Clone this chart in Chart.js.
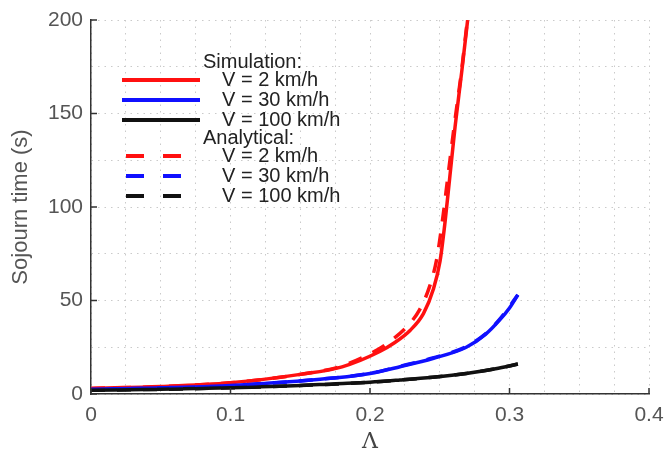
<!DOCTYPE html>
<html>
<head>
  <meta charset="UTF-8">
  <title>Sojourn time</title>
  <script src="https://cdn.jsdelivr.net/npm/chart.js"></script>
  <style>
    body {
      margin: 0;
      background: white;
    }
    canvas {
      display: block;
    }
  </style>
</head>
<body>
  <canvas id="grafica" width="665" height="449"></canvas>

  <script>
    // Simulation curves (Lambda, sojourn time in s)
    const simLambdaV2 = [0, 0.05, 0.1, 0.15, 0.18, 0.207, 0.2167, 0.2287, 0.2383, 0.2454, 0.2502, 0.2538, 0.2572, 0.261, 0.2657, 0.27];
    const simTimeV2   = [3, 4, 6, 10.5, 14.5, 22.7, 27, 34, 43, 56, 71, 92, 116, 143, 172, 200];
    const simLambdaV30 = [0, 0.05, 0.1, 0.126, 0.15, 0.1735, 0.2, 0.2215, 0.245, 0.269, 0.283, 0.293, 0.3, 0.306];
    const simTimeV30   = [2.5, 3.3, 4.5, 5.8, 7, 8.5, 11, 14.6, 19, 25, 32, 39.6, 46, 53];
    const simLambdaV100 = [0, 0.05, 0.1, 0.15, 0.1735, 0.2, 0.2215, 0.245, 0.269, 0.29, 0.306];
    const simTimeV100   = [2, 2.5, 3.3, 4.5, 5.4, 6.3, 7.5, 9, 11, 13.5, 16];

    // Analytical curves
    const anaLambdaV2 = [0, 0.05, 0.1, 0.15, 0.18, 0.205, 0.215, 0.2265, 0.2355, 0.2425, 0.2478, 0.2518, 0.2558, 0.2603, 0.2655, 0.2698];
    const anaTimeV2   = [3, 4, 6, 10.5, 15, 23.5, 28.5, 36, 45, 57, 72, 92, 116, 143, 172, 200];
    const anaLambdaV30 = [0, 0.05, 0.1, 0.15, 0.2, 0.2215, 0.245, 0.269, 0.283, 0.293, 0.306];
    const anaTimeV30   = [2.5, 3.3, 4.5, 7, 11, 14.8, 19.3, 25.3, 32.3, 40, 53];
    const anaLambdaV100 = [0, 0.05, 0.1, 0.15, 0.2, 0.245, 0.269, 0.29, 0.306];
    const anaTimeV100   = [2, 2.5, 3.3, 4.5, 6.3, 9, 11, 13.5, 16];

    const speedLabels = ['V = 2 km/h', 'V = 30 km/h', 'V = 100 km/h'];
    const groupTitles = ['Simulation:', 'Analytical:'];
    const xMajorTicks = [0, 0.1, 0.2, 0.3, 0.4];
    const yMajorTicks = [0, 50, 100, 150, 200];

    const colores = ['#ff1010', '#1010ff', '#111111'];

    function puntos(xs, ys) {
      return xs.map((x, i) => ({ x: x, y: ys[i] }));
    }

    function esMayor(v, lista) {
      return lista.some(t => Math.abs(t - v) < 1e-6);
    }

    const serie = (label, xs, ys, color, dash, orden) => ({
      label: label,
      data: puntos(xs, ys),
      borderColor: color,
      borderWidth: 3.5,
      borderDash: dash,
      pointRadius: 0,
      cubicInterpolationMode: 'monotone',
      fill: false,
      order: orden
    });

    const datasets = [
      serie(speedLabels[0], simLambdaV2, simTimeV2, colores[0], [], 5),
      serie(speedLabels[1], simLambdaV30, simTimeV30, colores[1], [], 4),
      serie(speedLabels[2], simLambdaV100, simTimeV100, colores[2], [], 3),
      serie(speedLabels[0], anaLambdaV2, anaTimeV2, colores[0], [14, 12], 2),
      serie(speedLabels[1], anaLambdaV30, anaTimeV30, colores[1], [14, 12], 1),
      serie(speedLabels[2], anaLambdaV100, anaTimeV100, colores[2], [14, 12], 0)
    ];

    // legend with the two group headers, drawn inside the plot
    const leyenda = {
      id: 'leyenda',
      afterDatasetsDraw(chart) {
        const ctx = chart.ctx;
        ctx.save();
        ctx.font = '20px "Liberation Sans", Arial, sans-serif';
        ctx.fillStyle = '#222';
        ctx.textBaseline = 'middle';
        let y = 62;
        chart.data.datasets.forEach((ds, i) => {
          if (i % 3 === 0) {
            ctx.fillText(groupTitles[i / 3], 203, y);
            y += 18;
          }
          ctx.strokeStyle = ds.borderColor;
          ctx.lineWidth = 4;
          ctx.setLineDash(ds.borderDash.length ? [18, 19] : []);
          ctx.beginPath();
          ctx.moveTo(ds.borderDash.length ? 126 : 122, y);
          ctx.lineTo(200, y);
          ctx.stroke();
          ctx.fillText(ds.label, 222, y);
          y += 20;
          if (i === 2) y -= 2;
        });
        ctx.restore();
      }
    };

    // small inward tick marks on the two axes
    const marcas = {
      id: 'marcas',
      afterDraw(chart) {
        const ctx = chart.ctx;
        const xs = chart.scales.x;
        const ys = chart.scales.y;
        ctx.save();
        ctx.strokeStyle = '#333';
        ctx.lineWidth = 1.5;
        ctx.beginPath();
        xMajorTicks.forEach(v => {
          const px = xs.getPixelForValue(v);
          ctx.moveTo(px, ys.bottom);
          ctx.lineTo(px, ys.bottom - 6);
        });
        yMajorTicks.forEach(v => {
          const py = ys.getPixelForValue(v);
          ctx.moveTo(xs.left, py);
          ctx.lineTo(xs.left + 6, py);
        });
        ctx.stroke();
        ctx.restore();
      }
    };

    new Chart(document.getElementById('grafica').getContext('2d'), {
      type: 'line',
      data: { datasets: datasets },
      options: {
        responsive: false,
        animation: false,
        layout: { padding: { top: 20, right: 16, left: 0, bottom: 0 } },
        plugins: {
          legend: { display: false },
          tooltip: { enabled: false }
        },
        scales: {
          x: {
            type: 'linear',
            min: 0,
            max: 0.4,
            afterFit: s => { s.height = 55; s.paddingLeft = 0; s.paddingRight = 0; },
            ticks: {
              stepSize: 0.025,
              autoSkip: false,
              maxRotation: 0,
              padding: 9,
              color: '#555',
              font: { family: '"Liberation Sans", Arial, sans-serif', size: 21 },
              callback: v => esMayor(v, xMajorTicks) ? String(Math.round(v * 10) / 10) : ''
            },
            grid: { color: '#cacaca', lineWidth: 1, drawTicks: false },
            border: { color: '#333', width: 1.5, dash: [1.5, 5] },
            title: {
              display: true,
              text: 'Λ',
              color: '#444',
              padding: { top: 0, bottom: 0 },
              font: { family: '"DejaVu Serif", "Liberation Serif", serif', size: 22, lineHeight: 0.6 }
            }
          },
          y: {
            min: 0,
            max: 200,
            afterFit: s => { s.width = 91; s.paddingTop = 0; s.paddingBottom = 0; },
            ticks: {
              stepSize: 25,
              autoSkip: false,
              padding: 8,
              color: '#555',
              font: { family: '"Liberation Sans", Arial, sans-serif', size: 21 },
              callback: v => esMayor(v, yMajorTicks) ? String(v) : ''
            },
            grid: { color: '#cacaca', lineWidth: 1, drawTicks: false },
            border: { color: '#333', width: 1.5, dash: [1.5, 5] },
            title: {
              display: true,
              text: 'Sojourn time (s)',
              color: '#555',
              padding: { top: 8, bottom: 0 },
              font: { family: '"Liberation Sans", Arial, sans-serif', size: 22 }
            }
          }
        }
      },
      plugins: [leyenda, marcas]
    });
  </script>
</body>
</html>
